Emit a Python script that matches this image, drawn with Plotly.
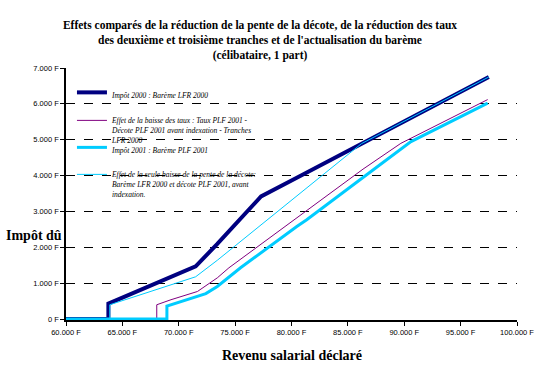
import plotly.graph_objects as go

# ---- data ----
navy_x = [60000, 63760, 63760, 67000, 71500, 73400, 76200, 77300, 80470, 83260, 87370, 97500]
navy_y = [0, 0, 430, 870, 1470, 2090, 3050, 3420, 3940, 4400, 5080, 6750]

purple_x = [60000, 68050, 68050, 69310, 71660, 73420, 74450, 80470, 86340, 89700, 97400]
purple_y = [0, 0, 400, 540, 770, 1150, 1430, 2820, 4180, 4900, 6120]

cyan_x = [60000, 68950, 68950, 72400, 73420, 75480, 80470, 81350, 87670, 90600, 97400]
cyan_y = [0, 0, 360, 710, 910, 1430, 2580, 2770, 4260, 4950, 6020]

thin_x = [60000, 63880, 63880, 71500, 73420, 80470, 86200, 97500]
thin_y = [0, 0, 400, 1180, 1640, 3420, 4890, 6750]

x_tickvals = [60000, 65000, 70000, 75000, 80000, 85000, 90000, 95000, 100000]
x_ticktext = ["60.000 F", "65.000 F", "70.000 F", "75.000 F", "80.000 F",
              "85.000 F", "90.000 F", "95.000 F", "100.000 F"]
y_tickvals = [0, 1000, 2000, 3000, 4000, 5000, 6000, 7000]
y_ticktext = ["0 F", "1.000 F", "2.000 F", "3.000 F", "4.000 F", "5.000 F", "6.000 F", "7.000 F"]

names = [
    "<i>Impôt 2000 : Barème LFR 2000</i>",
    "<i>Effet de la baisse des taux : Taux PLF 2001 -<br>Décote PLF 2001 avant indexation - Tranches<br>LFR 2000</i>",
    "<i>Impôt 2001 : Barème PLF 2001</i>",
    "<i>Effet de la seule baisse de la pente de la décote:<br>Barème LFR 2000 et décote PLF 2001, avant<br>indexation.</i>",
]

NAVY = "#000080"
PURPLE = "#800080"
CYAN = "#00CCFF"
SERIF = "Liberation Serif, Times New Roman, serif"
SANS = "Liberation Sans, Arial, sans-serif"

fig = go.Figure()
fig.add_trace(go.Scatter(x=navy_x, y=navy_y, mode="lines", name=names[0],
                         line=dict(color=NAVY, width=4), legend="legend"))
fig.add_trace(go.Scatter(x=purple_x, y=purple_y, mode="lines", name=names[1],
                         line=dict(color=PURPLE, width=1), legend="legend2"))
fig.add_trace(go.Scatter(x=cyan_x, y=cyan_y, mode="lines", name=names[2],
                         line=dict(color=CYAN, width=3), legend="legend3"))
fig.add_trace(go.Scatter(x=thin_x, y=thin_y, mode="lines", name=names[3],
                         line=dict(color=CYAN, width=1), legend="legend4"))

L, R, T, B = 66, 26, 68, 46
W, H = 546, 366
pw, ph = W - L - R, H - T - B


def px_x(px):
    return (px - L) / pw


def px_y(py):
    return (H - B - py) / ph


leg_font = dict(family=SERIF, size=7.5, color="black")


def mk_leg(xp, yp):
    return dict(x=px_x(xp), y=px_y(yp), xanchor="left", yanchor="top",
                bgcolor="rgba(0,0,0,0)", font=leg_font, valign="top",
                itemwidth=30, tracegroupgap=0, borderwidth=0)


fig.update_layout(
    width=W, height=H,
    margin=dict(l=L, r=R, t=T, b=B),
    paper_bgcolor="white", plot_bgcolor="white",
    title=dict(
        text="<b>Effets comparés de la réduction de la pente de la décote, de la réduction des taux<br>"
             "des deuxième et troisième tranches et de l'actualisation du barème<br>"
             "(célibataire, 1 part)</b>",
        x=260 / W, xanchor="center", xref="container",
        y=1 - 29 / H, yanchor="top", yref="container",
        font=dict(family=SERIF, size=11.5, color="black"),
    ),
    showlegend=True,
    legend=mk_leg(72, 81),
    legend2=mk_leg(72, 109),
    legend3=mk_leg(72, 136),
    legend4=mk_leg(72, 163),
    xaxis=dict(range=[60000, 100000], tickvals=x_tickvals, ticktext=x_ticktext,
               showgrid=False, zeroline=False, showline=True, linecolor="black",
               linewidth=1.5, ticks="outside", ticklen=4, tickcolor="black",
               tickfont=dict(family=SANS, size=7.5, color="black")),
    yaxis=dict(range=[-25, 7000], tickvals=y_tickvals, ticktext=y_ticktext,
               showgrid=True, gridcolor="black", griddash="dash", gridwidth=1,
               zeroline=False, showline=True, linecolor="black", linewidth=1.5,
               ticks="outside", ticklen=4, tickcolor="black",
               tickfont=dict(family=SANS, size=7.5, color="black")),
    annotations=[
        dict(text="<b>Impôt dû</b>", xref="paper", yref="paper",
             x=px_x(4), y=px_y(235), xanchor="left", yanchor="middle",
             showarrow=False, font=dict(family=SERIF, size=14, color="black")),
        dict(text="<b>Revenu salarial déclaré</b>", xref="paper", yref="paper",
             x=px_x(293), y=px_y(355), xanchor="center", yanchor="middle",
             showarrow=False, font=dict(family=SERIF, size=14, color="black")),
    ],
)

fig.write_html("out.html",
               config={"displayModeBar": False},
               post_script="document.body.style.margin='0';document.body.style.overflow='hidden';")
